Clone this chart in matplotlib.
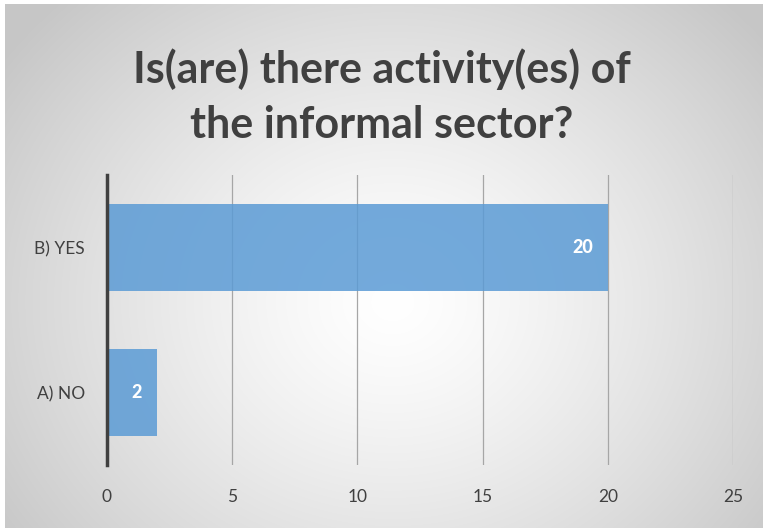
import numpy as np
import matplotlib
matplotlib.use("Agg")
import matplotlib.pyplot as plt

categories = ["A) NO", "B) YES"]
values = [2, 20]
xticks = [0, 5, 10, 15, 20, 25]
title = "Is(are) there activity(es) of\nthe informal sector?"

W, H = 763, 528
fig = plt.figure(figsize=(W / 100, H / 100), dpi=100)
fig.patch.set_facecolor("white")

# radial gradient background
bg = fig.add_axes([5 / W, 0, (W - 5) / W, (H - 4) / H])
bg.set_axis_off()
yy, xx = np.mgrid[0:H, 0:W]
cx, cy = 390, 300
r = np.sqrt(((xx - cx) / 480.0) ** 2 + ((yy - cy) / 420.0) ** 2)
v = 1.0 - 0.22 * np.clip(r, 0, 1.0) ** 1.3
img = np.dstack([v, v, v])
bg.imshow(img, aspect="auto", extent=[0, 1, 0, 1], origin="upper")
bg.set_xlim(0, 1); bg.set_ylim(0, 1)

FONT = "Lato"
ax = fig.add_axes([107 / W, 1 - 465 / H, (733 - 107) / W, (465 - 175) / H])
ax.set_facecolor("none")
ypos = np.arange(len(categories))
bars = ax.barh(ypos, values, height=0.6, color="#5B9BD5", alpha=0.85, zorder=3)
ax.set_xlim(0, 25)
ax.set_ylim(-0.5, len(categories) - 0.5)
ax.set_xticks(xticks)
ax.set_yticks(ypos)
ax.set_yticklabels(categories)
ax.grid(axis="x", color="#A6A6A6", linewidth=0.9, zorder=0)
for s in ["top", "right", "bottom"]:
    ax.spines[s].set_visible(False)
ax.spines["left"].set_color("#404040")
ax.spines["left"].set_linewidth(2.5)
ax.spines["left"].set_zorder(4)
ax.tick_params(axis="both", length=0, labelsize=12.5, colors="#404040")
ax.tick_params(axis="x", pad=17)
ax.tick_params(axis="y", pad=16)
for lbl in ax.get_xticklabels() + ax.get_yticklabels():
    lbl.set_fontfamily(FONT)
for b, val in zip(bars, values):
    ax.text(b.get_width() - 0.6, b.get_y() + b.get_height() / 2, str(val),
            ha="right", va="center", color="white", fontsize=13,
            fontweight="black", fontfamily=FONT, zorder=5)

fig.text(382 / W, 1 - 97 / H, title, ha="center", va="center", fontsize=31,
         fontweight="bold", fontfamily=FONT, color="#404040",
         linespacing=1.45)

fig.savefig("out.png", dpi=100)
